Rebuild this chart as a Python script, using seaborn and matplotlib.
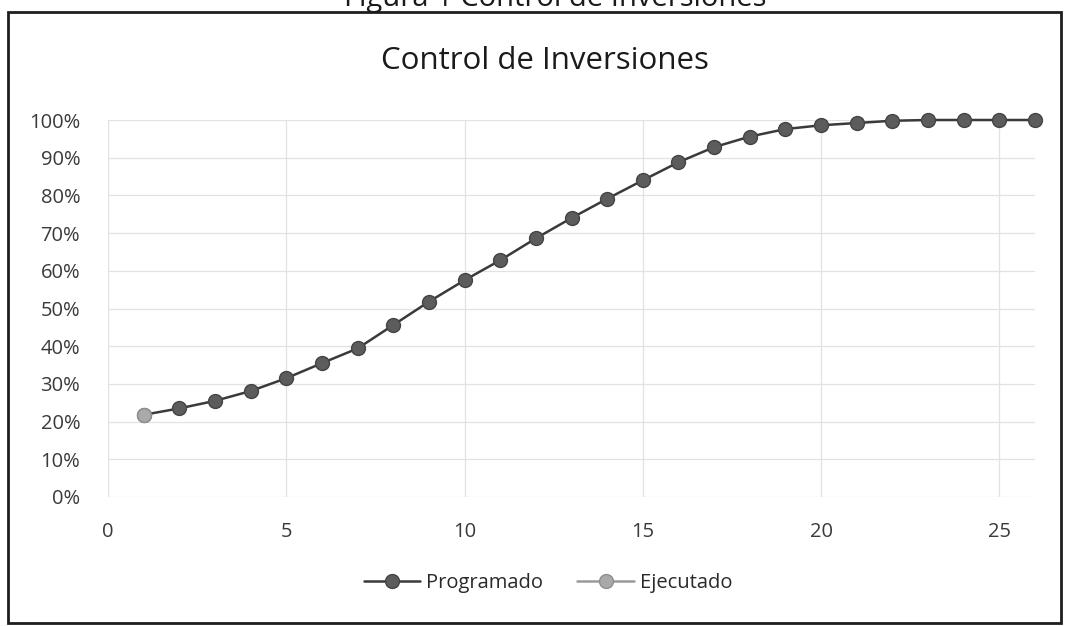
import matplotlib
matplotlib.use("Agg")
import matplotlib.pyplot as plt
import seaborn as sns
import numpy as np
import pandas as pd
from matplotlib.patches import Rectangle
from matplotlib.lines import Line2D
from matplotlib.ticker import PercentFormatter

# ---- data ----
periodos = list(range(1, 27))
programado = [21.8, 23.5, 25.5, 28.1, 31.5, 35.5, 39.4, 45.6, 51.8, 57.5,
              62.8, 68.6, 74.0, 79.1, 84.0, 88.8, 92.8, 95.6, 97.6, 98.6,
              99.2, 99.8, 100.0, 100.0, 100.0, 100.0]
ejecutado_x = [1]
ejecutado = [21.8]
y_ticks = list(range(0, 101, 10))
x_ticks = [0, 5, 10, 15, 20, 25]

title = "Control de Inversiones"
caption = "Figura 1 Control de Inversiones"
labels = ["Programado", "Ejecutado"]

sns.set_theme(style="white")
plt.rcParams['font.family'] = ['Open Sans', 'DejaVu Sans']

W, H = 1065, 626
fig = plt.figure(figsize=(W / 100, H / 100), dpi=100)
fig.patch.set_facecolor("white")

left, right, top, bottom = 108, 1035, 120, 497
ax = fig.add_axes([left / W, 1 - bottom / H, (right - left) / W, (bottom - top) / H])

df_p = pd.DataFrame({"x": periodos, "y": programado})
df_e = pd.DataFrame({"x": ejecutado_x, "y": ejecutado})

prog_style = dict(color="#3a3a3a", linewidth=1.8, marker="o", markersize=10,
                  markerfacecolor="#5c5c5c", markeredgecolor="#444444",
                  markeredgewidth=1.0)
ejec_style = dict(color="#9a9a9a", linewidth=1.8, marker="o", markersize=10,
                  markerfacecolor="#a9a9a9", markeredgecolor="#8f8f8f",
                  markeredgewidth=1.0)

sns.lineplot(data=df_p, x="x", y="y", ax=ax, legend=False, **prog_style)
sns.lineplot(data=df_e, x="x", y="y", ax=ax, legend=False, **ejec_style)
for ln in ax.lines:
    ln.set_clip_on(False)

ax.set_xlim(0, 26)
ax.set_ylim(0, 100)
ax.set_xticks(x_ticks)
ax.set_yticks(y_ticks)
ax.yaxis.set_major_formatter(PercentFormatter(decimals=0))
ax.set_xlabel("")
ax.set_ylabel("")
ax.grid(True, color="#e2e2e2", linewidth=0.9)
ax.set_axisbelow(True)
for s in ax.spines.values():
    s.set_visible(False)
ax.tick_params(axis="both", length=0, labelsize=14.5, colors="#3a3a3a")
ax.tick_params(axis="y", pad=20)
ax.tick_params(axis="x", pad=18)

fig.text(545 / W, 1 - 61 / H, title, ha="center", va="center",
         fontsize=22.5, color="#1a1a1a")

fig.text(555 / W, 1 - 6 / H, caption, ha="center", va="baseline",
         fontsize=21, color="#1a1a1a")

handles = [Line2D([], [], **prog_style), Line2D([], [], **ejec_style)]
fig.legend(handles, labels, loc="center", bbox_to_anchor=(548 / W, 1 - 583 / H),
           ncol=2, frameon=False, fontsize=14.5, handlelength=2.8,
           handletextpad=0.3, columnspacing=1.7, labelcolor="#2a2a2a")

fig.patches.append(Rectangle((8 / W, 3 / H), (1061 - 8) / W, (623 - 12) / H,
                             transform=fig.transFigure, fill=False,
                             edgecolor="#1e1e1e", linewidth=2.0))

fig.savefig("out.png", dpi=100)
